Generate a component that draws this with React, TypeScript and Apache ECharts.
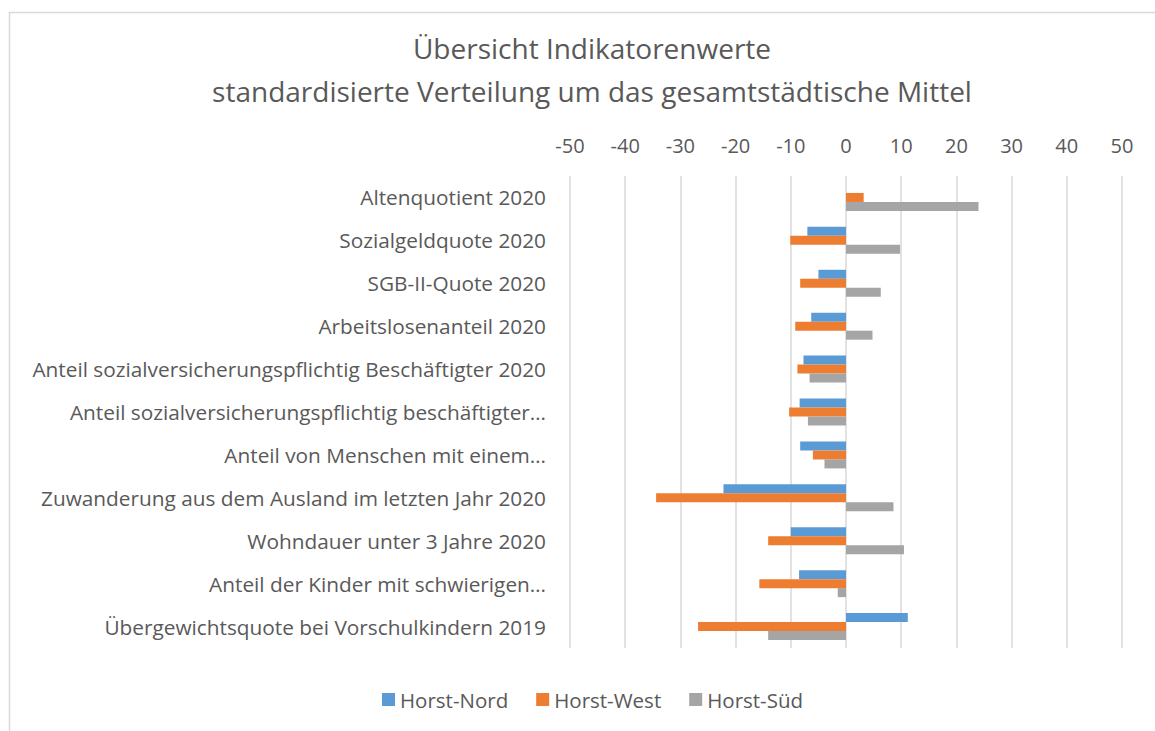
import React, { useEffect, useRef } from "react";
import * as echarts from "echarts";

const categories = [
  "Altenquotient 2020",
  "Sozialgeldquote 2020",
  "SGB-II-Quote 2020",
  "Arbeitslosenanteil 2020",
  "Anteil sozialversicherungspflichtig Beschäftigter 2020",
  "Anteil sozialversicherungspflichtig beschäftigter…",
  "Anteil von Menschen mit einem…",
  "Zuwanderung aus dem Ausland im letzten Jahr 2020",
  "Wohndauer unter 3 Jahre 2020",
  "Anteil der Kinder mit schwierigen…",
  "Übergewichtsquote bei Vorschulkindern 2019",
];

const horstNord = [0, -7.0, -5.0, -6.3, -7.7, -8.4, -8.3, -22.2, -10.0, -8.5, 11.2];
const horstWest = [3.2, -10.1, -8.3, -9.2, -8.8, -10.3, -6.0, -34.4, -14.1, -15.7, -26.8];
const horstSued = [24.0, 9.8, 6.3, 4.8, -6.6, -6.9, -3.9, 8.6, 10.5, -1.5, -14.1];

const xTicks = { min: -50, max: 50, interval: 10 };

const FONT = "Open Sans";
const TEXT = "#595959";
const GRID = "#d9d9d9";

export default function App() {
  const ref = useRef<HTMLDivElement>(null);
  useEffect(() => {
    if (!ref.current) return;
    const chart = echarts.init(ref.current, null, { renderer: "svg" });
    chart.setOption({
      animation: false,
      backgroundColor: "#ffffff",
      textStyle: { fontFamily: FONT },
      title: {
        text: "Übersicht Indikatorenwerte\nstandardisierte Verteilung um das gesamtstädtische Mittel",
        left: 587,
        top: 21,
        textAlign: "center",
        textStyle: {
          fontFamily: FONT,
          fontSize: 28,
          fontWeight: "normal",
          color: TEXT,
          lineHeight: 43,
        },
      },
      graphic: [
        {
          type: "rect",
          shape: { x: 9.5, y: 12.5, width: 1200, height: 800 },
          style: { fill: "none", stroke: GRID, lineWidth: 1.5 },
          silent: true,
        },
      ],
      legend: {
        bottom: 16,
        left: 377,
        itemWidth: 13,
        itemHeight: 13,
        itemGap: 28,
        icon: "rect",
        textStyle: { fontFamily: FONT, fontSize: 20.5, color: TEXT },
        data: ["Horst-Nord", "Horst-West", "Horst-Süd"],
      },
      grid: { left: 570, right: 33, top: 176, bottom: 83, containLabel: false },
      xAxis: {
        type: "value",
        position: "top",
        min: xTicks.min,
        max: xTicks.max,
        interval: xTicks.interval,
        axisLine: { show: false },
        axisTick: { show: false },
        axisLabel: { fontFamily: FONT, fontSize: 20, color: TEXT, margin: 21 },
        splitLine: { lineStyle: { color: GRID, width: 1.5 } },
      },
      yAxis: {
        type: "category",
        inverse: true,
        data: categories,
        axisLine: { show: false },
        axisTick: { show: false },
        axisLabel: { fontFamily: FONT, fontSize: 20.8, color: TEXT, margin: 24 },
      },
      series: [
        { name: "Horst-Nord", type: "bar", data: horstNord, itemStyle: { color: "#5B9BD5" }, barWidth: 9, barGap: "0%" },
        { name: "Horst-West", type: "bar", data: horstWest, itemStyle: { color: "#ED7D31" }, barWidth: 9, barGap: "0%" },
        { name: "Horst-Süd", type: "bar", data: horstSued, itemStyle: { color: "#A5A5A5" }, barWidth: 9, barGap: "0%" },
      ],
    });
    return () => chart.dispose();
  }, []);
  return (
    <div
      ref={ref}
      style={{ position: "fixed", left: 0, top: 0, width: 1155, height: 731 }}
    />
  );
}
